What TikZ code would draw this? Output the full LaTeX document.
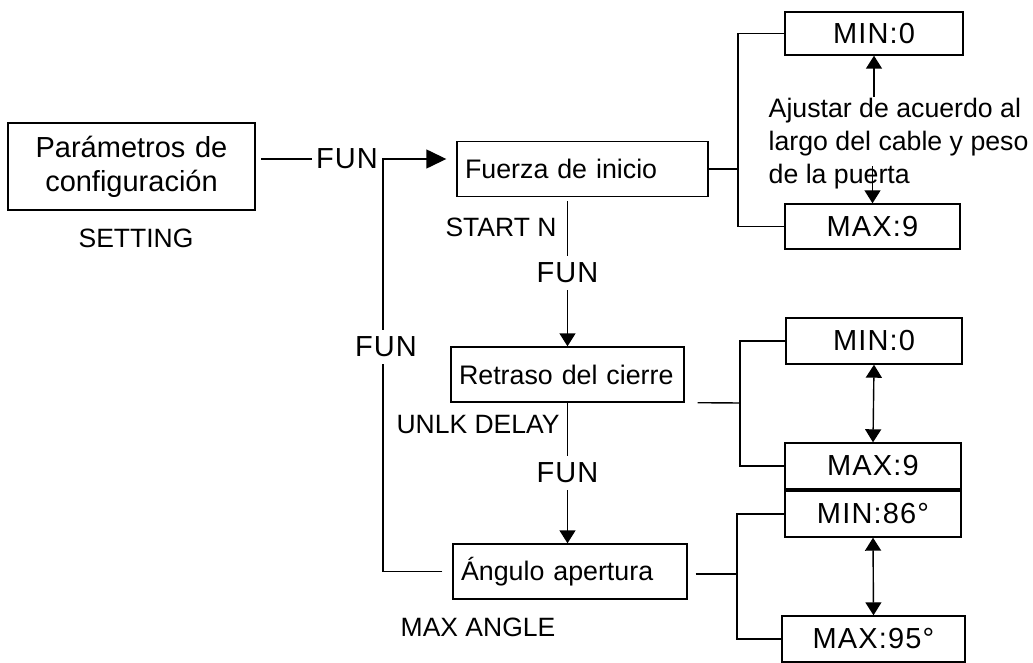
\documentclass[tikz,border=0pt]{standalone}
\usepackage{fontspec}
\setmainfont{Liberation Sans}
\newfontfamily\wide[LetterSpace=4]{Liberation Sans}
\usetikzlibrary{arrows.meta}
\begin{document}
\begin{tikzpicture}[x=1pt,y=-1pt,line width=1.4pt,
menu/.style={draw,inner xsep=8pt,inner ysep=0pt,align=left,minimum height=55pt,font=\fontsize{26.8}{32}\selectfont},
lim/.style={draw,inner sep=0pt,minimum height=46pt,font=\wide\fontsize{29}{32}\selectfont},
tag/.style={font=\fontsize{26.5}{32}\selectfont},
fun/.style={fill=white,inner xsep=4pt,inner ysep=7pt,font=\wide\fontsize{29}{32}\selectfont},
tip/.style={-{Triangle[length=13pt,width=16pt]}},
dtip/.style={{Triangle[length=13pt,width=16pt]}-{Triangle[length=13pt,width=16pt]}},
bigtip/.style={-{Triangle[length=20pt,width=19pt]}}]
\useasboundingbox (0,0) rectangle (1033,663);
\node[menu,inner xsep=10pt,text width=227pt,minimum height=87pt,align=center,font=\fontsize{29}{34}\selectfont] (set) at (131.5,166.5) {Parámetros de\\configuración};
\node[tag] (setl) at (136,238) {SETTING};
\node[menu,text width=235pt] (fue) at (582.5,169) {Fuerza de inicio};
\node[menu,text width=217pt] (ret) at (567.5,374.5) {Retraso del cierre};
\node[menu,text width=218pt] (ang) at (570,571.5) {Ángulo apertura};
\node[tag] (stn) at (501,227) {START N};
\node[tag] (unl) at (478,425) {UNLK DELAY};
\node[tag] (mxa) at (478,627) {MAX ANGLE};
\node[lim,minimum width=178pt,minimum height=43pt] (min1) at (874,33.5) {MIN:0};
\node[lim,minimum width=175pt,minimum height=45pt] (max1) at (872.5,226.5) {MAX:9};
\node[lim,minimum width=176pt] (min2) at (874,341) {MIN:0};
\node[lim,minimum width=176pt] (max2) at (873,466) {MAX:9};
\node[lim,minimum width=176pt] (min3) at (873,514) {MIN:86°};
\node[lim,minimum width=183pt] (max3) at (873.5,639) {MAX:95°};
\node[tag,anchor=north west,inner sep=0pt,align=left,font=\fontsize{26.7}{33}\selectfont] (adj) at (768,97) {Ajustar de acuerdo al\\largo del cable y peso\\de la puerta};
\coordinate (s0) at (261,159);
\coordinate (jt) at (383,159);
\coordinate (j1) at (738,169);
\coordinate (j2) at (740,403);
\coordinate (j3) at (737,574);
\draw[bigtip] (s0) -- ([xshift=-10pt]fue.west |- s0);
\node[fun] (fun0) at (347,159) {FUN};
\draw ([xshift=-10pt]ang.west) -| (jt);
\node[fun] (fun3) at (386,347) {FUN};
\draw[tip] ([yshift=-4pt]fue.south -| ret.north) -- (ret.north);
\node[fun] (fun1) at (567.5,273) {FUN};
\draw[tip] (ret.south) -- (ret.south |- ang.north);
\node[fun] (fun2) at (567.5,473) {FUN};
\draw (fue.east) -- (j1);
\draw (min1.west) -| (j1) |- (max1.west);
\draw ([xshift=13pt]ret.south east) -- (j2);
\draw (min2.west) -| (j2) |- (max2.west);
\draw ([xshift=8pt]ang.east |- j3) -- (j3);
\draw (min3.west) -| (j3) |- (max3.west);
\draw[tip] (min1.south |- adj.north) -- (min1.south);
\draw[tip] ([yshift=37pt]max1.north) -- (max1.north);
\draw[dtip] (min2.south) -- (max2.north);
\draw[dtip] (min3.south) -- (max3.north);
\end{tikzpicture}
\end{document}
